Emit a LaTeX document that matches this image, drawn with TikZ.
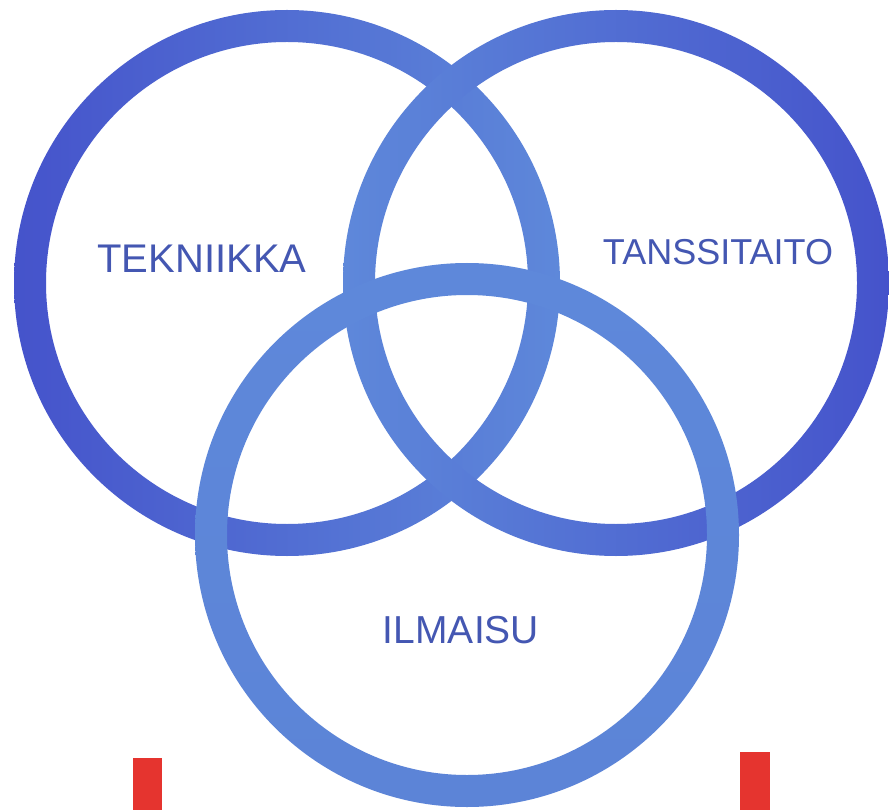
\documentclass[tikz,border=0pt]{standalone}
\usepackage{fontspec}
\setmainfont{Liberation Sans}
\definecolor{ringdark}{HTML}{4553CB}
\definecolor{ringlight}{HTML}{5E88DA}
\definecolor{ringbottom}{HTML}{5C84D7}
\definecolor{labelblue}{HTML}{4457B2}
\definecolor{barred}{HTML}{E5342F}
\tikzset{
  lbl/.style={text=labelblue, inner sep=0pt, font=\fontsize{#1}{#1}\selectfont},
  bar/.style={fill=barred, draw=none}
}
\begin{document}
\begin{tikzpicture}[x=1pt,y=-1pt]
\useasboundingbox (0,0) rectangle (889,810);
\fill[white] (0,0) rectangle (889,810);
\coordinate (cL) at (287,283);
\coordinate (cR) at (616,283);
\coordinate (cB) at (467,535);
% rings
\shade[left color=ringdark, right color=ringlight, even odd rule]
  (cL) circle[radius=273pt] (cL) circle[radius=241pt];
\shade[left color=ringlight, right color=ringdark, even odd rule]
  (cR) circle[radius=273pt] (cR) circle[radius=241pt];
\shade[top color=ringlight, bottom color=ringbottom, even odd rule]
  (cB) circle[radius=272pt] (cB) circle[radius=240pt];
% labels
\node[lbl=40] (tek) at (202,259) {TEKNIIKKA};
\node[lbl=36] (tan) at (718,252) {TANSSITAITO};
\node[lbl=39] (ilm) at (461,630) {ILMAISU};
% red bars
\fill[bar] (133,758) rectangle (162,810);
\fill[bar] (740,752) rectangle (770,810);
\end{tikzpicture}
\end{document}
